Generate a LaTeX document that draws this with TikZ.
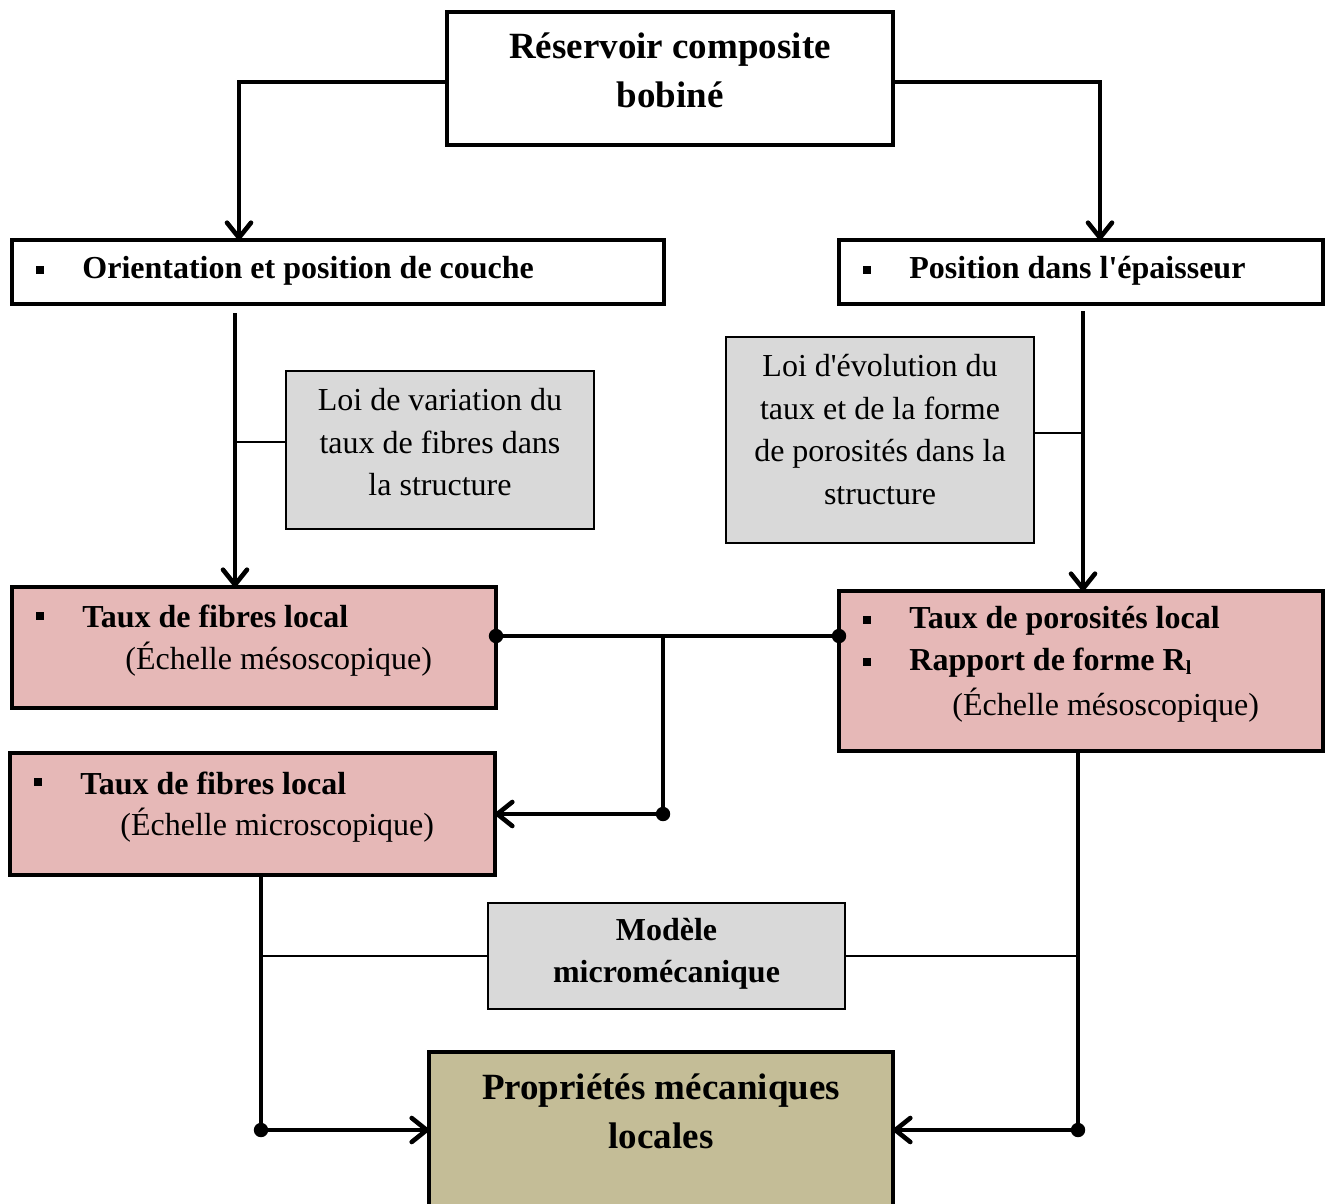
\documentclass[tikz,border=0pt]{standalone}
\usepackage{fontspec}
\setmainfont[Ligatures=TeXOff]{Liberation Serif}
\usetikzlibrary{arrows.meta}
\definecolor{pinkbox}{HTML}{E6B8B7}
\definecolor{graybox}{HTML}{D9D9D9}
\definecolor{tanbox}{HTML}{C4BD97}
\begin{document}
\begin{tikzpicture}[x=0.5pt,y=-0.5pt,
  mainbox/.style={draw, line width=2.3pt, inner sep=0pt, outer sep=0pt},
  notebox/.style={draw, line width=0.75pt, fill=graybox, inner sep=0pt, outer sep=0pt},
  txt/.style={inner sep=0pt, font=\fontsize{16}{21.25}\selectfont, align=center},
  btxt/.style={inner sep=0pt, font=\fontsize{16}{21}\selectfont\bfseries, anchor=west},
  rtxt/.style={inner sep=0pt, font=\fontsize{16}{21}\selectfont, anchor=west},
  ttl/.style={inner sep=0pt, font=\fontsize{18.5}{24.5}\selectfont\bfseries, align=center},
  bul/.style={fill, minimum size=4pt, inner sep=0pt},
  link/.style={line width=2.3pt},
  arr/.style={line width=2.3pt, -{Straight Barb[length=7.5pt,width=12pt,round]}},
  thinl/.style={line width=0.75pt}]
\useasboundingbox (0,0) rectangle (1333,1204);

% boxes
\node[mainbox, minimum width=223pt, minimum height=66.5pt] (top) at (670,78.5) {};
\node[mainbox, minimum width=326pt, minimum height=32pt] (L1) at (338,272) {};
\node[mainbox, minimum width=242pt, minimum height=32pt] (R1) at (1081,272) {};
\node[notebox, minimum width=154pt, minimum height=79pt] (G1) at (440,450) {};
\node[notebox, minimum width=154pt, minimum height=103pt] (G2) at (880,440) {};
\node[mainbox, fill=pinkbox, minimum width=242pt, minimum height=60.5pt] (P1) at (254,647.5) {};
\node[mainbox, fill=pinkbox, minimum width=242pt, minimum height=80pt] (P2) at (1081,671) {};
\node[mainbox, fill=pinkbox, minimum width=242.5pt, minimum height=61pt] (P3) at (252.5,814) {};
\node[notebox, minimum width=178.5pt, minimum height=53pt] (G3) at (666.5,956) {};
\node[mainbox, fill=tanbox, minimum width=232pt, minimum height=78pt] (B) at (661,1130) {};

% texts
\node[ttl] (tTop) at (670,70.5) {Réservoir composite\\bobiné};
\node[bul] (bL1) at (40,270) {};
\node[btxt] (tL1) at (82,271) {Orientation et position de couche};
\node[bul] (bR1) at (867,270) {};
\node[btxt] (tR1) at (909,271) {Position dans l'épaisseur};
\node[txt] (tG1) at (440,442.5) {Loi de variation du\\taux de fibres dans\\la structure};
\node[txt] (tG2) at (880,429.5) {Loi d'évolution du\\taux et de la forme\\de porosités dans la\\structure};
\node[bul] (bP1) at (40,616) {};
\node[btxt] (tP1a) at (82,616) {Taux de fibres local};
\node[rtxt] (tP1b) at (125,659) {(Échelle mésoscopique)};
\node[bul] (bP2a) at (867,620) {};
\node[btxt] (tP2a) at (909,621) {Taux de porosités local};
\node[bul] (bP2b) at (867,662) {};
\node[btxt] (tP2b) at (909,663) {Rapport de forme R\raisebox{-0.25ex}{\fontsize{10}{10}\selectfont l}};
\node[rtxt] (tP2c) at (952,705) {(Échelle mésoscopique)};
\node[bul] (bP3) at (38,782) {};
\node[btxt] (tP3a) at (80,783) {Taux de fibres local};
\node[rtxt] (tP3b) at (120,825) {(Échelle microscopique)};
\node[txt, font=\fontsize{16}{21}\selectfont\bfseries] (tG3) at (666.5,954) {Modèle\\micromécanique};
\node[ttl] (tB) at (661,1111.5) {Propriétés mécaniques\\locales};

% connectors
\draw[arr] ([yshift=-1.75pt]top.west) -| ([xshift=-49.5pt]L1.north);
\draw[arr] ([yshift=-1.75pt]top.east) -| ([xshift=9.5pt]R1.north);

\coordinate (lv) at (235,313);
\draw[arr] (lv) -- (lv |- P1.north);
\coordinate (g1w) at ([yshift=4pt]G1.west);
\draw[thinl] (g1w) -- (g1w -| lv);

\coordinate (rv) at (1083,311);
\draw[arr] (rv) -- (rv |- P2.north);
\coordinate (g2e) at ([yshift=3.5pt]G2.east);
\draw[thinl] (g2e) -- (g2e -| rv);

\coordinate (p1e) at ([yshift=5.75pt]P1.east);
\coordinate (p2w) at ([yshift=17.5pt]P2.west);
\draw[link] (p1e) -- (p2w);
\coordinate (j1) at (663,636);
\coordinate (j2) at (j1 |- P3.east);
\draw[arr] (j1) -- (j2) -- (P3.east);
\fill (p1e) circle[radius=3.6pt];
\fill (p2w) circle[radius=3.6pt];
\fill (j2) circle[radius=3.6pt];

\coordinate (p3s) at ([xshift=4.25pt]P3.south);
\coordinate (cl) at (p3s |- B.west);
\draw[arr] (p3s) -- (cl) -- (B.west);
\fill (cl) circle[radius=3.6pt];

\coordinate (p2s) at ([xshift=-1.5pt]P2.south);
\coordinate (cr) at (p2s |- B.east);
\draw[arr] (p2s) -- (cr) -- (B.east);
\fill (cr) circle[radius=3.6pt];

\draw[thinl] (G3.west) -- (G3.west -| p3s);
\draw[thinl] (G3.east) -- (G3.east -| p2s);
\end{tikzpicture}
\end{document}
